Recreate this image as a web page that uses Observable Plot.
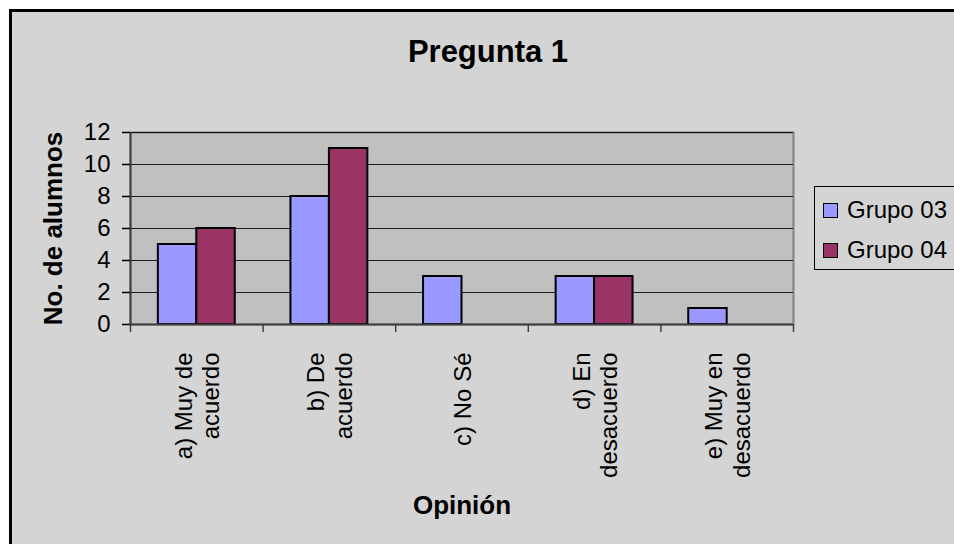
<!DOCTYPE html>
<html>
<head>
<meta charset="utf-8">
<script src="https://cdn.jsdelivr.net/npm/d3@7"></script>
<script src="https://cdn.jsdelivr.net/npm/@observablehq/plot@0.6"></script>
<style>
  html, body { margin: 0; padding: 0; background: #fff; width: 954px; height: 544px; overflow: hidden;
    font-family: "Liberation Sans", Arial, sans-serif; }
  #frame { position: absolute; left: 9px; top: 9px; width: 990px; height: 580px; background: #d4d4d4;
    border: 3px solid #000; box-sizing: border-box; }
  #title { position: absolute; left: 0; top: 36px; width: 976px; text-align: center; font-weight: bold;
    font-size: 31px; line-height: 31px; color: #000; }
  #plot { position: absolute; left: 0; top: 80px; }
  #legend { position: absolute; left: 814px; top: 186px; width: 200px; height: 84px; border: 1px solid #000;
    box-sizing: border-box; background: #d4d4d4; }
  .item { position: absolute; left: 8px; height: 24px; display: flex; align-items: center; font-size: 24px;
    line-height: 24px; color: #000; white-space: nowrap; }
  .sw { width: 15px; height: 15px; border: 1.5px solid #000; box-sizing: border-box; margin-right: 9px; }
</style>
</head>
<body>
<div id="frame"></div>
<div id="title">Pregunta 1</div>
<div id="plot"></div>
<div id="legend"></div>
<script>
// ---- Data ----
const categorias = ["a) Muy de acuerdo", "b) De acuerdo", "c) No Sé", "d) En desacuerdo", "e) Muy en desacuerdo"];
const etiquetas = ["a) Muy de\nacuerdo", "b) De\nacuerdo", "c) No Sé", "d) En\ndesacuerdo", "e) Muy en\ndesacuerdo"];
const series = ["Grupo 03", "Grupo 04"];
const grupo03 = [5, 8, 3, 3, 1];
const grupo04 = [6, 11, 0, 3, 0];
const colores = ["#9999ff", "#993366"];
const yTicks = [0, 2, 4, 6, 8, 10, 12];
const ejeY = "No. de alumnos";
const ejeX = "Opinión";

// ---- Layout constants (bar gap / width as fraction of a category) ----
const hueco = 0.21;
const ancho = 0.29;

const valores = [grupo03, grupo04];
const filas = [];
categorias.forEach((c, i) => {
  series.forEach((s, k) => filas.push({i, categoria: c, serie: s, k, valor: valores[k][i]}));
});

const font = '"Liberation Sans", Arial, sans-serif';

const chart = Plot.plot({
  width: 954,
  height: 464,
  marginLeft: 130,
  marginRight: 161,
  marginTop: 52,
  marginBottom: 220,
  style: {background: "transparent", fontFamily: font, fontSize: "24px", color: "#000", overflow: "visible"},
  x: {domain: [0, categorias.length], axis: null},
  y: {domain: [0, 12], axis: null},
  color: {domain: series, range: colores},
  marks: [
    Plot.frame({fill: "#c0c0c0", stroke: "#808080", strokeWidth: 2}),
    Plot.gridY(yTicks.filter(t => t > 0), {stroke: "#000", strokeOpacity: 0.85, strokeWidth: 1.2}),
    Plot.rectY(filas, {
      filter: d => d.valor > 0,
      x1: d => d.i + hueco + d.k * ancho,
      x2: d => d.i + hueco + (d.k + 1) * ancho,
      y1: 0,
      y2: "valor",
      fill: "serie",
      stroke: "#000",
      strokeWidth: 2
    }),
    Plot.ruleX([0], {stroke: "#404040", strokeWidth: 2}),
    Plot.ruleY([0], {stroke: "#404040", strokeWidth: 2}),
    Plot.axisY({ticks: yTicks, tickSize: 8, tickPadding: 12, tickFormat: d => String(d), label: null,
      stroke: "#000", strokeWidth: 1.5, fontSize: 24}),
    Plot.axisX({ticks: d3.range(0, categorias.length + 1), tickSize: 8, tickFormat: () => "", label: null,
      stroke: "#404040", strokeWidth: 1.5}),
    Plot.text(etiquetas, {
      x: (d, i) => i + 0.5,
      text: d => d,
      frameAnchor: "bottom",
      dy: 28,
      rotate: -90,
      textAnchor: "end",
      lineAnchor: "middle",
      lineHeight: 1.15,
      fontSize: 24,
      fill: "#000"
    }),
    Plot.text([ejeY], {text: d => d, frameAnchor: "left", dx: -77, rotate: -90, textAnchor: "middle",
      lineAnchor: "middle", fontWeight: "bold", fontSize: 26, fill: "#000"}),
    Plot.text([ejeX], {text: d => d, frameAnchor: "bottom", dy: 181, textAnchor: "middle", lineAnchor: "middle",
      fontWeight: "bold", fontSize: 26, fill: "#000"})
  ]
});
document.getElementById("plot").appendChild(chart);

// ---- Legend ----
const legend = document.getElementById("legend");
series.forEach((s, k) => {
  const item = document.createElement("div");
  item.className = "item";
  item.style.top = (11 + k * 40) + "px";
  const sw = document.createElement("div");
  sw.className = "sw";
  sw.style.background = colores[k];
  const label = document.createElement("span");
  label.textContent = s;
  item.appendChild(sw);
  item.appendChild(label);
  legend.appendChild(item);
});
</script>
</body>
</html>
